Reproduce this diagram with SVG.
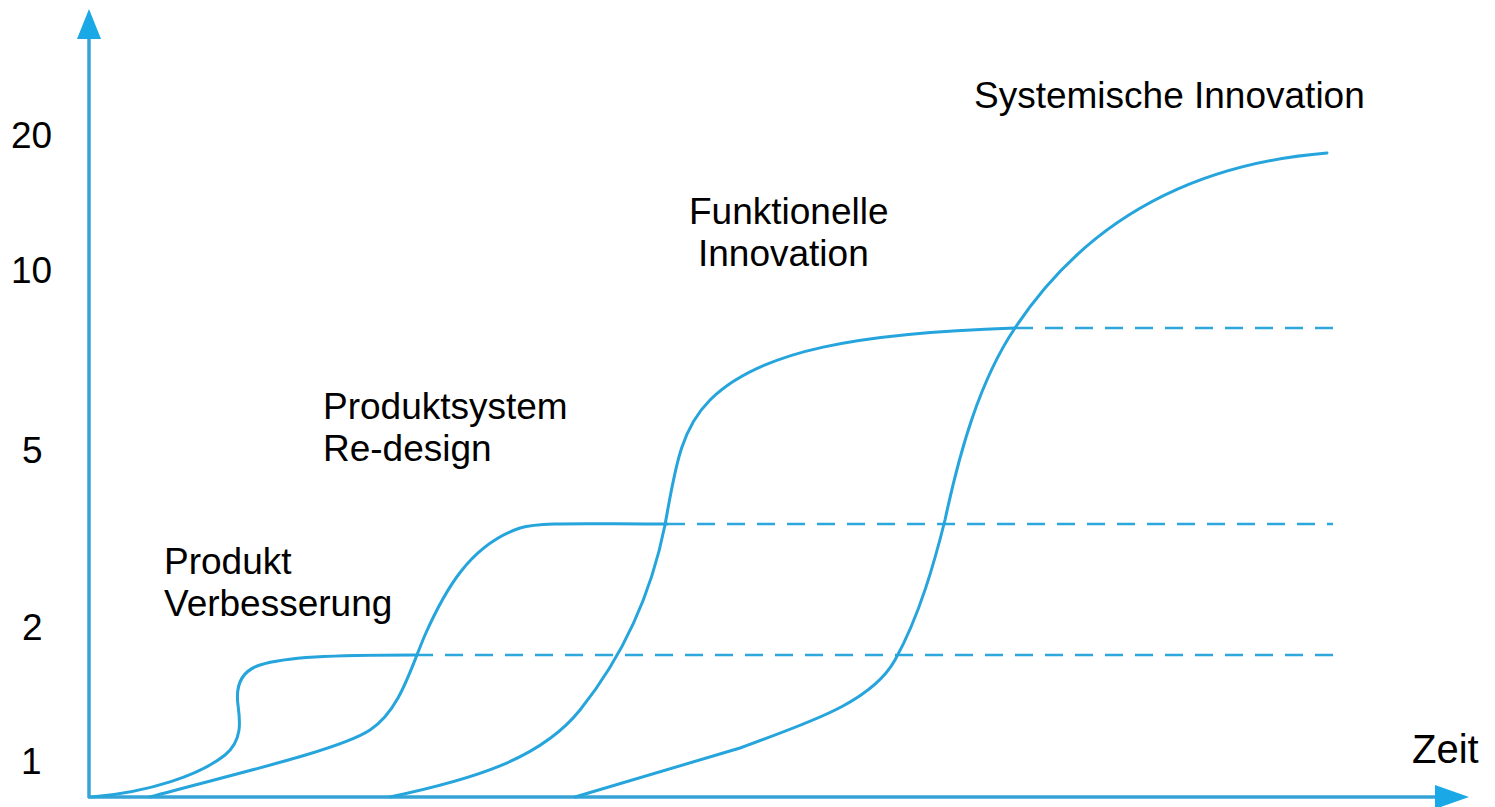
<svg xmlns="http://www.w3.org/2000/svg" width="1495" height="807" viewBox="0 0 1495 807">
  <style>
    .lbl { font-family: "Liberation Sans", Arial, sans-serif; font-size: 37px; fill: #000; }
    .curve { fill: none; stroke: #26a4dc; stroke-width: 3; stroke-linecap: round; }
    .dash { fill: none; stroke: #2ea7dc; stroke-width: 2.5; stroke-dasharray: 18 12; }
    .axis { fill: none; stroke: #36a3d6; stroke-width: 3.5; }
    .head { fill: #1aa8e6; }
  </style>
  <rect width="1495" height="807" fill="#fff"/>

  <g id="axes">
    <line class="axis" x1="89" y1="798" x2="89" y2="36"/>
    <polygon class="head" points="89,9 77,39 101,39"/>
    <line class="axis" x1="88" y1="797" x2="1438" y2="797"/>
    <polygon class="head" points="1469,797 1435,785 1435,809"/>
    <text class="lbl" x="1412" y="763" style="font-size:40px">Zeit</text>
  </g>

  <g id="y-scale">
    <text class="lbl" x="11" y="148">20</text>
    <text class="lbl" x="11" y="283">10</text>
    <text class="lbl" x="22" y="463">5</text>
    <text class="lbl" x="22" y="640">2</text>
    <text class="lbl" x="21" y="774">1</text>
  </g>

  <g id="connectors">
    <path class="dash" d="M415,655 H1333"/>
    <path class="dash" d="M667,524 H1333"/>
    <path class="dash" d="M1015,328 H1333"/>
  </g>

  <g id="produkt-verbesserung">
    <path class="curve" d="M92,797 C150,792 200,775 225,755 C243,740 240,720 238,705 C236,690 238,672 260,665 C285,657 330,655 415,655"/>
    <text class="lbl" x="164" y="574">Produkt</text>
    <text class="lbl" x="164" y="616">Verbesserung</text>
  </g>

  <g id="produktsystem-redesign">
    <path class="curve" d="M150,797 C230,775 340,750 370,730 C400,710 410,670 425,635 C445,590 470,545 520,528 C540,522 580,524 667,524"/>
    <text class="lbl" x="323" y="419">Produktsystem</text>
    <text class="lbl" x="323" y="461">Re-design</text>
  </g>

  <g id="funktionelle-innovation">
    <path class="curve" d="M390,797 C470,780 540,760 580,710 C620,660 650,600 665,525 C675,470 680,430 710,400 C760,350 860,333 1015,328"/>
    <text class="lbl" x="689" y="224">Funktionelle</text>
    <text class="lbl" x="698" y="266">Innovation</text>
  </g>

  <g id="systemische-innovation">
    <path class="curve" d="M575,797 L740,748 C800,725 870,705 895,660 C920,615 935,560 945,520 C960,450 980,380 1015,328 C1080,230 1180,165 1327,153"/>
    <text class="lbl" x="974" y="108">Systemische Innovation</text>
  </g>
</svg>
